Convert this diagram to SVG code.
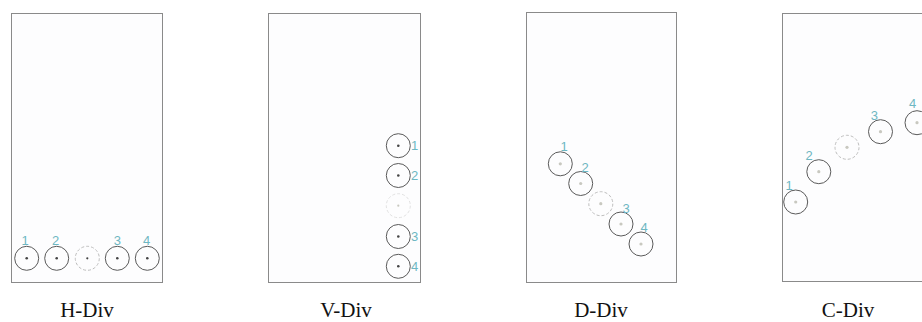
<svg xmlns="http://www.w3.org/2000/svg" width="922" height="322" viewBox="0 0 922 322">
<style>
.frame{fill:#fdfdfe;stroke:#8a8a8a;stroke-width:1}
.c{fill:none;stroke:#5a5a5a;stroke-width:1}
.g{fill:none;stroke:#bdbdbd;stroke-width:1;stroke-dasharray:3 2}
.gv{fill:none;stroke:#e2e2e2;stroke-width:1;stroke-dasharray:3 2}
.d{fill:#444}
.dl{fill:#c8c8c0}
.n{font-family:"Liberation Sans",Arial,sans-serif;font-size:13px;fill:#6db7c2;text-anchor:middle}
.cap{font-family:"Liberation Serif","Times New Roman",serif;font-size:21px;fill:#111;text-anchor:middle}
</style>
<rect width="922" height="322" fill="#fff"/>

<g id="panel-h">
<rect class="frame" x="11.5" y="13.5" width="151" height="269"/>
<g id="h1"><circle class="c" cx="26.7" cy="258.3" r="12"/><circle class="d" cx="26.7" cy="258.3" r="1.3"/><text class="n" x="25" y="245">1</text></g>
<g id="h2"><circle class="c" cx="56.7" cy="258.3" r="12"/><circle class="d" cx="56.7" cy="258.3" r="1.3"/><text class="n" x="55.7" y="245">2</text></g>
<g id="h-gap"><circle class="g" cx="87.3" cy="258.3" r="12"/><circle class="d" cx="87.3" cy="258.3" r="1.1"/></g>
<g id="h3"><circle class="c" cx="117.3" cy="258.3" r="12"/><circle class="d" cx="117.3" cy="258.3" r="1.3"/><text class="n" x="117.3" y="245">3</text></g>
<g id="h4"><circle class="c" cx="147.3" cy="258.3" r="12"/><circle class="d" cx="147.3" cy="258.3" r="1.3"/><text class="n" x="146.7" y="245">4</text></g>
<text class="cap" x="87" y="317">H-Div</text>
</g>

<g id="panel-v">
<rect class="frame" x="268.5" y="13.5" width="152" height="269"/>
<g id="v1"><circle class="c" cx="398.3" cy="145.7" r="12"/><circle class="d" cx="398.3" cy="145.7" r="1.3"/><text class="n" x="414.5" y="150">1</text></g>
<g id="v2"><circle class="c" cx="398.3" cy="175.5" r="12"/><circle class="d" cx="398.3" cy="175.5" r="1.3"/><text class="n" x="414.5" y="180">2</text></g>
<g id="v-gap"><circle class="gv" cx="398.3" cy="205.7" r="12"/><circle class="dl" cx="398.3" cy="205.7" r="1.1"/></g>
<g id="v3"><circle class="c" cx="398.3" cy="236.5" r="12"/><circle class="d" cx="398.3" cy="236.5" r="1.3"/><text class="n" x="414.5" y="241">3</text></g>
<g id="v4"><circle class="c" cx="398.3" cy="266.3" r="12"/><circle class="d" cx="398.3" cy="266.3" r="1.3"/><text class="n" x="414.5" y="271">4</text></g>
<text class="cap" x="346" y="317">V-Div</text>
</g>

<g id="panel-d">
<rect class="frame" x="526.5" y="12.5" width="150" height="270"/>
<g id="d1"><circle class="c" cx="560.3" cy="163.8" r="12"/><circle class="dl" cx="560.3" cy="163.8" r="1.6"/><text class="n" x="564" y="151">1</text></g>
<g id="d2"><circle class="c" cx="580.7" cy="183.5" r="12"/><circle class="dl" cx="580.7" cy="183.5" r="1.6"/><text class="n" x="585" y="172">2</text></g>
<g id="d-gap"><circle class="g" cx="600.8" cy="203.7" r="12"/><circle class="dl" cx="600.8" cy="203.7" r="1.6"/></g>
<g id="d3"><circle class="c" cx="621" cy="224" r="12"/><circle class="dl" cx="621" cy="224" r="1.6"/><text class="n" x="626" y="213">3</text></g>
<g id="d4"><circle class="c" cx="641" cy="244" r="12"/><circle class="dl" cx="641" cy="244" r="1.6"/><text class="n" x="644" y="232">4</text></g>
<text class="cap" x="601" y="317">D-Div</text>
</g>

<g id="panel-c">
<rect class="frame" x="782.5" y="13.5" width="200" height="268"/>
<g id="c1"><circle class="c" cx="795.7" cy="202" r="12"/><circle class="dl" cx="795.7" cy="202" r="1.6"/><text class="n" x="789" y="190">1</text></g>
<g id="c2"><circle class="c" cx="818.8" cy="171.7" r="12"/><circle class="dl" cx="818.8" cy="171.7" r="1.6"/><text class="n" x="809" y="160">2</text></g>
<g id="c-gap"><circle class="g" cx="847" cy="147.3" r="12"/><circle class="dl" cx="847" cy="147.3" r="1.6"/></g>
<g id="c3"><circle class="c" cx="880.5" cy="131.7" r="12"/><circle class="dl" cx="880.5" cy="131.7" r="1.6"/><text class="n" x="874.3" y="120">3</text></g>
<g id="c4"><circle class="c" cx="917" cy="122.7" r="12"/><circle class="dl" cx="917" cy="122.7" r="1.6"/><text class="n" x="912.7" y="108">4</text></g>
<text class="cap" x="848" y="317">C-Div</text>
</g>

<g id="connectors"/>
</svg>
